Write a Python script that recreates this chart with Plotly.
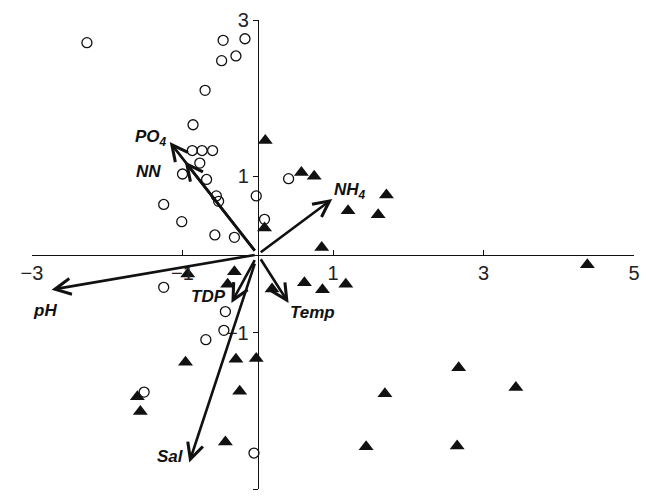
import plotly.graph_objects as go

# ---------------- data ----------------
circle_x = [-2.27, -0.46, -0.17, -0.48, -0.29, -0.70, -0.86, -0.87, -0.74, -0.60,
            -0.77, -1.00, -0.68, -0.55, -0.52, -0.02, 0.41, -1.25, -1.01, -0.57,
            -0.31, 0.09, -1.25, -0.43, -0.45, -0.69, -1.51, -0.05]
circle_y = [2.71, 2.74, 2.76, 2.48, 2.54, 2.10, 1.66, 1.33, 1.33, 1.33,
            1.17, 1.03, 0.96, 0.75, 0.68, 0.75, 0.97, 0.64, 0.42, 0.25,
            0.22, 0.45, -0.42, -0.73, -0.97, -1.09, -1.76, -2.54]

tri_x = [0.10, 0.58, 0.75, 0.09, 0.85, 1.71, 1.20, 1.60, 4.38, 0.62,
         0.86, 1.17, 2.67, 3.43, 1.69, 1.44, 2.65, -0.93, -0.31, -0.40,
         0.19, -0.96, -0.29, -0.02, -0.24, -1.60, -1.56, -0.43]
tri_y = [1.46, 1.05, 1.00, 0.34, 0.09, 0.76, 0.56, 0.51, -0.13, -0.36,
         -0.45, -0.38, -1.45, -1.70, -1.78, -2.46, -2.45, -0.25, -0.22, -0.38,
         -0.44, -1.38, -1.34, -1.33, -1.75, -1.82, -2.01, -2.40]

vec_names = ["PO<sub>4</sub>", "NN", "NH<sub>4</sub>", "pH", "TDP", "Temp", "Sal"]
vec_x = [-1.17, -0.97, 0.99, -2.74, -0.35, 0.41, -0.91]
vec_y = [1.44, 1.19, 0.71, -0.45, -0.62, -0.62, -2.66]

x_ticks = [-3, -1, 1, 3, 5]
y_ticks = [3, 1, -1, -3]

# label placement styles (pixel offsets from arrow tip)
label_style = {
    "PO<sub>4</sub>": dict(xanchor="right", xshift=-1, yshift=4),
    "NN": dict(xanchor="right", xshift=-22, yshift=-10),
    "NH<sub>4</sub>": dict(xanchor="left", xshift=0, yshift=8),
    "pH": dict(xanchor="center", xshift=-7, yshift=-21),
    "TDP": dict(xanchor="right", xshift=-3, yshift=6),
    "Temp": dict(xanchor="left", xshift=-1, yshift=-10),
    "Sal": dict(xanchor="right", xshift=-3, yshift=6),
}

def fmt(v):
    return str(v).replace("-", "\u2212")

fig = go.Figure()

fig.add_trace(go.Scatter(
    x=tri_x, y=tri_y, mode="markers",
    marker=dict(symbol="triangle-up", size=13, color="#111111",
                line=dict(width=0)),
    showlegend=False, hoverinfo="skip"))

fig.add_trace(go.Scatter(
    x=circle_x, y=circle_y, mode="markers",
    marker=dict(symbol="circle-open", size=10, color="#111111",
                line=dict(width=1.3, color="#111111")),
    showlegend=False, hoverinfo="skip"))

for name, vx, vy in zip(vec_names, vec_x, vec_y):
    fig.add_annotation(
        x=vx, y=vy, ax=0, ay=0, xref="x", yref="y", axref="x", ayref="y",
        text=" ", showarrow=True, arrowhead=5, arrowsize=1.2, arrowwidth=2.6,
        arrowcolor="#111111", standoff=0, startstandoff=0)
    st = label_style[name]
    fig.add_annotation(
        x=vx, y=vy, xref="x", yref="y", showarrow=False,
        text="<b><i>" + name + "</i></b>",
        font=dict(family="Liberation Sans, Arial", size=17, color="#111111"),
        xanchor=st["xanchor"], yanchor="middle",
        xshift=st["xshift"], yshift=st["yshift"])

tick_font = dict(family="Liberation Sans, Arial", size=20, color="#222222")

fig.update_layout(
    width=646, height=496,
    margin=dict(l=32, r=12, t=20, b=7),
    paper_bgcolor="white", plot_bgcolor="white",
    showlegend=False,
    xaxis=dict(range=[-3, 5], anchor="free", position=0.5,
               showline=True, linecolor="#111111", linewidth=1,
               ticks="inside", ticklen=5, tickcolor="#111111", tickwidth=1,
               tickvals=x_ticks, ticktext=[fmt(v) for v in x_ticks],
               tickfont=tick_font, showgrid=False, zeroline=False,
               automargin=False, fixedrange=True),
    yaxis=dict(range=[-3, 3], anchor="free", position=0.375,
               showline=True, linecolor="#111111", linewidth=1,
               ticks="outside", ticklen=5, tickcolor="#111111", tickwidth=1,
               tickvals=y_ticks, ticktext=[fmt(v) for v in y_ticks],
               tickfont=tick_font, showgrid=False, zeroline=False,
               automargin=False, fixedrange=True),
)

fig.write_html("out.html")
